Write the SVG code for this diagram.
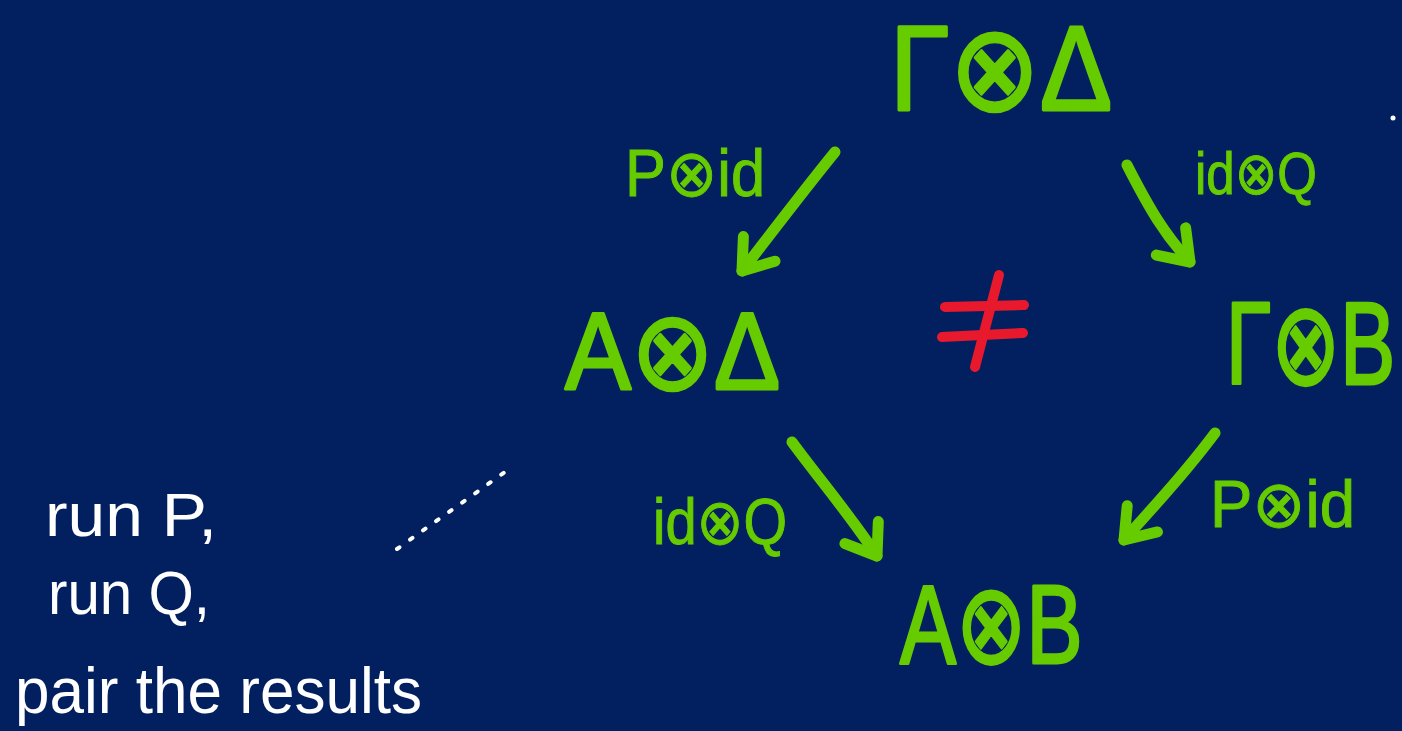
<svg xmlns="http://www.w3.org/2000/svg" width="1402" height="731" viewBox="0 0 1402 731">
  <style>
    .node { font-family: "Liberation Sans", "DejaVu Sans", sans-serif; fill: #66cc00; stroke: #66cc00; stroke-width: 3; stroke-linejoin: round; }
    .lbl { font-family: "Liberation Sans", "DejaVu Sans", sans-serif; fill: #66cc00; stroke: #66cc00; stroke-width: 1; }
    .note { font-family: "Liberation Sans", "DejaVu Sans", sans-serif; fill: #ffffff; }
    .arrow { fill: none; stroke: #66cc00; stroke-width: 11; stroke-linecap: round; stroke-linejoin: round; }
    .head { fill: none; stroke: #66cc00; stroke-width: 11; stroke-linecap: round; stroke-linejoin: round; }
    .neq { fill: none; stroke: #e8192c; stroke-width: 10; stroke-linecap: round; }
  </style>
  <defs>
    <marker id="ah" viewBox="-45 -35 60 70" markerWidth="60" markerHeight="70" refX="0" refY="0" orient="auto" markerUnits="userSpaceOnUse">
      <path class="head" d="M -28 -20 L 0 0 L -28 20"/>
    </marker>
  </defs>
  <rect width="1402" height="731" fill="#02205f"/>

  <g id="node-gamma-delta">
    <text class="node" transform="translate(890,110) scale(0.9,1)" font-size="120">Γ⊗Δ</text>
  </g>
  <g id="node-a-delta">
    <text class="node" transform="translate(565,389) scale(0.9,1)" font-size="110">A⊗Δ</text>
  </g>
  <g id="node-gamma-b">
    <text class="node" transform="translate(1226,384) scale(0.71,1)" font-size="116">Γ⊗B</text>
  </g>
  <g id="node-a-b">
    <text class="node" transform="translate(900,663) scale(0.75,1)" font-size="112">A⊗B</text>
  </g>

  <g id="connectors">
    <path class="arrow" d="M835,152 C800,195 770,235 742,271" marker-end="url(#ah)"/>
    <path class="arrow" d="M1127,165 C1150,210 1165,235 1190,262" marker-end="url(#ah)"/>
    <path class="arrow" d="M792,442 C820,480 850,515 877,556" marker-end="url(#ah)"/>
    <path class="arrow" d="M1215,433 C1180,480 1150,510 1124,540" marker-end="url(#ah)"/>
  </g>

  <g id="labels">
    <text class="lbl" x="625" y="196" font-size="66" textLength="140" lengthAdjust="spacingAndGlyphs">P⊗id</text>
    <text class="lbl" x="1195" y="194" font-size="60" textLength="122" lengthAdjust="spacingAndGlyphs">id⊗Q</text>
    <text class="lbl" x="653" y="544" font-size="64" textLength="134" lengthAdjust="spacingAndGlyphs">id⊗Q</text>
    <text class="lbl" x="1210" y="527" font-size="66" textLength="145" lengthAdjust="spacingAndGlyphs">P⊗id</text>
  </g>

  <g id="not-equal">
    <path class="neq" d="M945,307 L1024,305"/>
    <path class="neq" d="M942,337 L1023,333"/>
    <path class="neq" d="M999,275 L975,367"/>
  </g>

  <g id="note">
    <text class="note" x="45" y="536" font-size="62" textLength="172" lengthAdjust="spacingAndGlyphs">run P,</text>
    <text class="note" x="48" y="614" font-size="62" textLength="162" lengthAdjust="spacingAndGlyphs">run Q,</text>
    <text class="note" x="15" y="713" font-size="64" textLength="407" lengthAdjust="spacingAndGlyphs">pair the results</text>
    <path d="M397,549 L505,472" fill="none" stroke="#ffffff" stroke-width="4" stroke-linecap="round" stroke-dasharray="3 13"/>
    <circle cx="1393" cy="118" r="2.5" fill="#ffffff"/>
  </g>
</svg>
